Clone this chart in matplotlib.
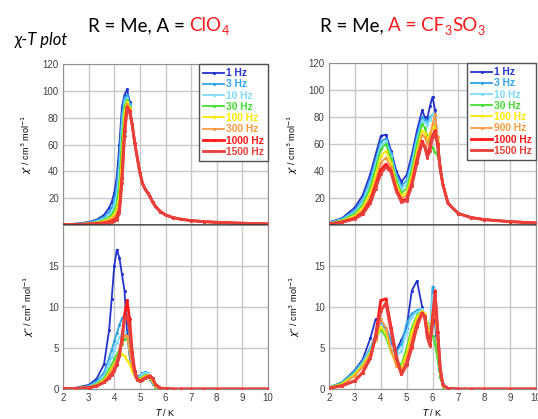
import matplotlib
matplotlib.use('Agg')
import matplotlib.pyplot as plt

plt.rcParams['font.family'] = ['Liberation Sans', 'DejaVu Sans']
plt.rcParams['mathtext.fontset'] = 'dejavusans'

# ---- data ----
freqs = ['1 Hz', '3 Hz', '10 Hz', '30 Hz', '100 Hz', '300 Hz', '1000 Hz', '1500 Hz']
freqs_r = ['1 Hz', '3 Hz', '10 Hz', '30 Hz', '100 Hz', '900 Hz', '1000 Hz', '1500 Hz']
colors = ['#2233cc', '#2fa3e6', '#7fdcff', '#44dd33', '#ffe800', '#ff9a40', '#ff1a1a', '#e8403a']

# ClO4 temperatures
T_clo4 = [2.0, 2.5, 3.0, 3.3, 3.6, 3.8, 3.9, 4.0, 4.1, 4.2, 4.3, 4.4, 4.5, 4.6, 4.7, 4.8,
          4.9, 5.0, 5.1, 5.2, 5.3, 5.4, 5.5, 5.6, 5.8, 6.0, 6.3, 6.6, 7.0, 7.5, 8.0, 9.0, 10.0]

tail_re = [75, 61, 50, 39, 31, 27, 24, 21, 17, 14, 10, 7.5, 5.5, 4.3, 3.3, 2.5, 2.0, 1.3, 0.8]
chi1_clo4 = [
    [0.5, 1.0, 2.2, 3.8, 7.5, 13, 17, 24, 36, 60, 88, 97, 101, 92] + tail_re,
    [0.5, 0.9, 1.8, 3.2, 6.0, 10, 13, 18, 29, 50, 82, 95, 97, 90] + tail_re,
    [0.4, 0.8, 1.5, 2.6, 4.6, 7.5, 10, 14, 22, 41, 74, 92, 95, 89] + tail_re,
    [0.4, 0.7, 1.3, 2.1, 3.7, 5.8, 7.8, 10.5, 16, 31, 64, 89, 93, 88] + tail_re,
    [0.3, 0.6, 1.1, 1.8, 3.0, 4.6, 6.0, 8.0, 12, 22, 52, 84, 92, 87] + tail_re,
    [0.3, 0.5, 0.9, 1.5, 2.4, 3.6, 4.8, 6.2, 8.5, 16, 42, 78, 90, 86] + tail_re,
    [0.2, 0.4, 0.7, 1.1, 1.6, 2.3, 3.0, 3.8, 5.5, 11, 35, 70, 88, 85] + tail_re,
    [0.2, 0.4, 0.6, 0.9, 1.3, 1.8, 2.2, 2.8, 4.0, 9, 31, 66, 87, 84] + tail_re,
]

tail_im = [0.1, 0.05, 0, 0, 0, 0, 0, 0, 0]
chi2_clo4 = [
    [0.05, 0.15, 0.5, 1.2, 3.0, 7.2, 11, 15, 17, 16, 14, 12, 7, 4, 2.5, 1.8, 1.5, 1.6, 1.9, 2.0, 1.8, 1.2, 0.6, 0.3] + tail_im,
    [0.05, 0.1, 0.4, 0.9, 2.0, 3.8, 4.8, 5.8, 6.8, 7.8, 8.6, 9.0, 9.0, 6.0, 3.0, 2.0, 1.5, 1.6, 1.9, 2.1, 2.0, 1.4, 0.7, 0.3] + tail_im,
    [0.05, 0.1, 0.3, 0.7, 1.6, 3.0, 3.9, 4.8, 5.6, 6.3, 6.8, 7.0, 6.2, 4.5, 2.8, 1.8, 1.4, 1.5, 1.8, 2.0, 1.9, 1.4, 0.7, 0.3] + tail_im,
    [0.04, 0.1, 0.25, 0.6, 1.3, 2.4, 3.0, 3.6, 4.2, 4.8, 5.5, 6.1, 6.2, 4.8, 3.0, 1.8, 1.3, 1.3, 1.5, 1.7, 1.7, 1.4, 0.8, 0.3] + tail_im,
    [0.04, 0.1, 0.2, 0.5, 1.1, 2.0, 2.6, 3.1, 3.6, 4.0, 4.3, 4.0, 3.5, 3.0, 2.2, 1.6, 1.2, 1.2, 1.4, 1.6, 1.7, 1.4, 0.9, 0.4] + tail_im,
    [0.03, 0.08, 0.2, 0.45, 1.0, 1.8, 2.3, 2.9, 3.6, 4.5, 5.6, 6.6, 6.5, 4.6, 2.8, 1.6, 1.1, 1.1, 1.3, 1.5, 1.6, 1.5, 1.0, 0.4] + tail_im,
    [0.03, 0.07, 0.15, 0.35, 0.8, 1.4, 1.8, 2.3, 3.0, 4.2, 6.2, 9.0, 10.8, 8.5, 4.5, 2.2, 1.2, 1.0, 1.1, 1.3, 1.5, 1.6, 1.3, 0.6] + tail_im,
    [0.03, 0.07, 0.15, 0.35, 0.8, 1.3, 1.7, 2.2, 2.9, 4.0, 6.0, 8.5, 9.0, 7.2, 4.0, 2.0, 1.1, 1.0, 1.1, 1.3, 1.5, 1.6, 1.3, 0.6] + tail_im,
]

# CF3SO3 temperatures
T_cf3 = [2.0, 2.5, 3.0, 3.3, 3.6, 3.8, 4.0, 4.2, 4.4, 4.6, 4.8, 5.0, 5.2, 5.4, 5.6, 5.7,
         5.8, 5.9, 6.0, 6.1, 6.2, 6.3, 6.4, 6.6, 7.0, 7.5, 8.0, 9.0, 10.0]

tail_re_r = [16, 8.5, 5.5, 4.0, 2.5, 1.5]
chi1_cf3 = [
    [2.0, 5.0, 13, 22, 38, 52, 66, 67, 55, 40, 32, 37, 52, 70, 85, 80, 79, 88, 95, 85, 60, 40, 30] + tail_re_r,
    [1.8, 4.5, 11, 19, 34, 48, 62, 64, 53, 37, 29, 33, 48, 66, 80, 78, 76, 80, 82, 80, 62, 42, 30] + tail_re_r,
    [1.5, 4.0, 9.5, 17, 31, 45, 59, 62, 51, 35, 27, 30, 45, 63, 77, 76, 74, 78, 82, 80, 63, 43, 30] + tail_re_r,
    [1.3, 3.5, 8.5, 15, 28, 42, 56, 60, 49, 33, 24, 27, 41, 60, 75, 72, 66, 61, 57, 54, 51, 42, 30] + tail_re_r,
    [1.1, 3.0, 7.0, 13, 24, 37, 51, 55, 46, 30, 22, 24, 37, 55, 70, 68, 64, 68, 72, 75, 62, 42, 30] + tail_re_r,
    [1.0, 2.6, 6.0, 11, 21, 33, 46, 50, 43, 28, 20, 22, 34, 52, 67, 65, 60, 65, 75, 82, 65, 44, 30] + tail_re_r,
    [0.9, 2.2, 5.0, 9, 18, 29, 41, 45, 40, 26, 18, 19, 30, 48, 62, 58, 52, 58, 66, 70, 60, 42, 30] + tail_re_r,
    [0.8, 2.0, 4.5, 8, 16, 27, 38, 43, 39, 25, 17, 18, 29, 46, 61, 58, 50, 55, 65, 69, 58, 41, 30] + tail_re_r,
]

tail_im_r = [0, 0, 0, 0, 0]
chi2_cf3 = [
    [0.2, 0.8, 2.3, 3.6, 6.2, 8.5, 8.3, 7.0, 5.5, 4.7, 6.0, 7.5, 12.0, 13.2, 10.0, 8.5, 7.2, 6.5, 9.0, 8.0, 4.0, 1.5, 0.6, 0.1] + tail_im_r,
    [0.2, 0.8, 2.2, 3.4, 5.0, 6.6, 8.0, 7.5, 6.0, 4.5, 5.5, 8.0, 9.2, 9.6, 9.8, 9.0, 7.5, 6.8, 12.5, 10.0, 5.0, 2.0, 0.5, 0.1] + tail_im_r,
    [0.2, 0.7, 2.0, 3.2, 4.8, 6.4, 7.8, 7.0, 5.2, 4.0, 4.6, 7.0, 8.8, 9.4, 9.7, 9.0, 7.5, 6.5, 11.5, 10.0, 5.0, 2.0, 0.5, 0.1] + tail_im_r,
    [0.2, 0.7, 1.9, 3.0, 4.5, 6.0, 7.3, 6.3, 4.5, 3.2, 3.0, 5.0, 7.5, 9.0, 9.5, 9.0, 8.0, 7.0, 6.5, 5.5, 3.5, 1.5, 0.3, 0.05] + tail_im_r,
    [0.15, 0.6, 1.8, 2.9, 4.4, 6.0, 7.6, 6.8, 4.6, 3.0, 2.6, 4.4, 7.0, 8.8, 9.5, 9.2, 7.8, 6.5, 9.5, 10.0, 5.0, 2.0, 0.4, 0.05] + tail_im_r,
    [0.15, 0.5, 1.6, 2.7, 4.2, 6.0, 8.5, 7.5, 4.8, 2.8, 2.2, 3.8, 6.2, 8.3, 9.3, 9.0, 7.5, 6.0, 9.0, 10.5, 6.0, 2.2, 0.4, 0.05] + tail_im_r,
    [0.1, 0.4, 1.0, 2.0, 3.8, 6.5, 10.8, 11.0, 7.5, 4.0, 1.8, 3.0, 5.3, 7.8, 9.3, 8.8, 6.5, 5.5, 8.5, 12.0, 7.0, 2.5, 0.5, 0.05] + tail_im_r,
    [0.1, 0.4, 1.0, 2.0, 3.8, 6.3, 9.5, 10.5, 7.0, 3.8, 1.8, 2.9, 5.0, 7.6, 9.2, 8.8, 6.3, 5.3, 8.0, 11.5, 7.0, 2.5, 0.5, 0.05] + tail_im_r,
]

# ---- figure ----
fig = plt.figure(figsize=(5.38, 4.19), dpi=100)
W, H = 538, 419

def px_axes(x0, y0, x1, y1):
    return fig.add_axes([x0 / W, 1 - y1 / H, (x1 - x0) / W, (y1 - y0) / H])

ax_tl = px_axes(63, 64, 268, 225)
ax_bl = px_axes(63, 225, 268, 389)
ax_tr = px_axes(329, 63, 536, 225)
ax_br = px_axes(329, 225, 536, 389)

def style(ax, top):
    ax.set_xlim(2, 10)
    ax.set_xticks(range(2, 11))
    ax.grid(True, color='#c8c8c8', lw=1.0)
    ax.set_axisbelow(True)
    for s in ax.spines.values():
        s.set_color('#909090')
    ax.tick_params(length=0, labelsize=7, colors='#404040', pad=3)
    if top:
        ax.set_ylim(0, 120)
        ax.set_yticks(range(20, 121, 20))
        ax.tick_params(axis='x', labelbottom=False)
        ax.axhline(0, color='#303030', lw=1.2, zorder=5)
        ax.set_ylabel(r"$\chi$' / cm$^3$ mol$^{-1}$", fontsize=6.5, labelpad=6)
    else:
        ax.set_ylim(0, 20)
        ax.set_yticks([0, 5, 10, 15])
        ax.set_xlabel(r'$T$ / K', fontsize=6.5, labelpad=3)
        ax.set_ylabel(r"$\chi$'' / cm$^3$ mol$^{-1}$", fontsize=6.5, labelpad=9)

handles = {}
for ax, T, series, top in [(ax_tl, T_clo4, chi1_clo4, True), (ax_bl, T_clo4, chi2_clo4, False),
                           (ax_tr, T_cf3, chi1_cf3, True), (ax_br, T_cf3, chi2_cf3, False)]:
    style(ax, top)
    hs = []
    for i, y in enumerate(series):
        lw = 2.0 if i >= 6 else 1.3
        h, = ax.plot(T, y, color=colors[i], lw=lw, marker='.', ms=2.5, zorder=3)
        hs.append(h)
    handles[ax] = hs

for ax, labels in [(ax_tl, freqs), (ax_tr, freqs_r)]:
    leg = ax.legend(handles[ax], labels, loc='upper right', fontsize=7.4, frameon=True,
                    fancybox=False, borderaxespad=0, handlelength=2.0, handletextpad=0.2,
                    labelspacing=0.12, borderpad=0.4, labelcolor='linecolor', framealpha=1)
    leg.get_frame().set_edgecolor('#505050')
    leg.get_frame().set_linewidth(1.0)
    for t in leg.get_texts():
        t.set_fontweight('bold')

# ---- titles ----
fig.canvas.draw()
renderer = fig.canvas.get_renderer()

def chain(x, y, parts):
    # parts: (text, colour, size, dy)
    for s, c, size, dy in parts:
        t = fig.text(x / W, 1 - (y + dy) / H, s, color=c, fontsize=size,
                     family=['Lato', 'DejaVu Sans'], va='baseline', ha='left')
        x += t.get_window_extent(renderer).width

red = '#ff1a1a'
chain(88, 31, [('R = Me, A = ', 'black', 13.5, 0), ('ClO', red, 13.5, 0), ('4', red, 9, 4)])
chain(320, 31, [('R = Me, ', 'black', 13.5, 0), ('A = CF', red, 13.5, 0), ('3', red, 9, 4),
                ('SO', red, 13.5, 0), ('3', red, 9, 4)])
fig.text(15 / W, 1 - 45 / H, 'χ-T plot', fontsize=12, style='italic',
         family=['Lato', 'DejaVu Sans'], va='baseline')

fig.savefig('out.png', dpi=100)
